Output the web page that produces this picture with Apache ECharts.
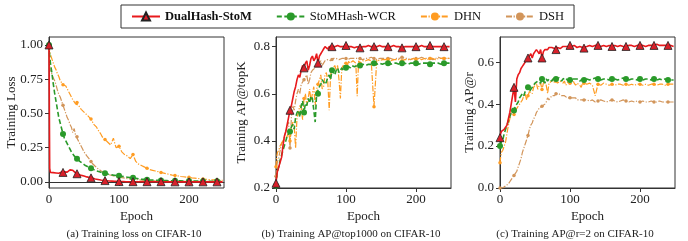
<!DOCTYPE html>
<html>
<head>
<meta charset="utf-8">
<script src="https://cdn.jsdelivr.net/npm/echarts@6/dist/echarts.min.js"></script>
<style>html,body{margin:0;padding:0;background:#fff;}#c{width:688px;height:241px;}</style>
</head>
<body>
<div id="c"></div>
<script>
// ---- sample epochs: 0, 1, every 2 up to 120, then every 4 up to 248 ----
var epochs = [0, 1];
for (var e = 2; e <= 120; e += 2) epochs.push(e);
for (var e2 = 124; e2 <= 248; e2 += 4) epochs.push(e2);

var seriesNames = ['DualHash-StoM', 'StoMHash-WCR', 'DHN', 'DSH'];
var captions = ['(a) Training loss on CIFAR-10', '(b) Training AP@top1000 on CIFAR-10', '(c) Training AP@r=2 on CIFAR-10'];
var yNames = ['Training Loss', 'Training AP@topK', 'Training AP@r'];
var xName = 'Epoch';
var xTicks = [0, 100, 200];
var yTicks1 = [0, 0.25, 0.5, 0.75, 1.0];
var yTicks2 = [0.2, 0.4, 0.6, 0.8];
var yTicks3 = [0.0, 0.2, 0.4, 0.6];

// (a) training loss
var lossDual = [1.00,0.10,
  0.07,0.065,0.068,0.063,0.066,0.07,0.064,0.068,0.072,0.07,
  0.074,0.078,0.072,0.082,0.088,0.09,0.085,0.078,0.066,0.06,
  0.056,0.05,0.048,0.046,0.043,0.04,0.037,0.034,0.032,0.03,
  0.028,0.025,0.022,0.02,0.018,0.016,0.014,0.013,0.011,0.01,
  0.009,0.008,0.007,0.006,0.006,0.005,0.005,0.004,0.004,0.003,
  0.003,0.003,0.003,0.003,0.002,0.002,0.002,0.002,0.002,0.002,
  0.002,0.002,0.002,0.002,0.002,0.002,0.002,0.002,0.002,
  0.002,0.002,0.001,0.001,0.001,0.001,0.001,0.001,0.001,0.001,
  0.001,0.001,0.001,0.001,0.001,0.001,0.001,0.001,0.001,0.001,
  0.001,0.001,0.001];
var lossStoM = [1.00,0.92,
  0.87,0.80,0.72,0.65,0.59,0.53,0.47,0.43,0.39,0.35,
  0.32,0.30,0.28,0.26,0.24,0.22,0.205,0.19,0.18,0.17,
  0.16,0.15,0.14,0.135,0.127,0.12,0.115,0.11,0.105,0.10,
  0.095,0.09,0.085,0.08,0.078,0.075,0.071,0.068,0.065,0.063,
  0.06,0.058,0.056,0.054,0.052,0.05,0.048,0.047,0.046,0.045,
  0.044,0.042,0.04,0.038,0.037,0.035,0.034,0.032,0.031,0.03,
  0.027,0.024,0.021,0.019,0.017,0.015,0.014,0.013,0.012,
  0.011,0.01,0.01,0.009,0.009,0.008,0.008,0.008,0.007,0.007,
  0.007,0.006,0.006,0.006,0.006,0.005,0.005,0.005,0.005,0.005,
  0.005,0.005,0.005];
var lossDHN = [1.00,0.95,
  0.93,0.90,0.87,0.84,0.82,0.79,0.77,0.74,0.73,0.71,
  0.72,0.70,0.68,0.66,0.64,0.62,0.60,0.59,0.57,0.58,
  0.56,0.55,0.53,0.52,0.51,0.50,0.49,0.48,0.47,0.46,
  0.44,0.42,0.41,0.40,0.38,0.37,0.35,0.33,0.34,0.31,
  0.30,0.29,0.28,0.27,0.26,0.32,0.28,0.25,0.26,0.26,
  0.24,0.22,0.21,0.20,0.195,0.19,0.18,0.17,0.16,0.20,
  0.15,0.13,0.12,0.11,0.10,0.09,0.085,0.08,0.075,
  0.07,0.065,0.06,0.055,0.05,0.047,0.044,0.04,0.038,0.036,
  0.034,0.03,0.028,0.026,0.024,0.022,0.02,0.018,0.016,0.015,
  0.014,0.013,0.012];
var lossDSH = [1.00,0.84,
  0.81,0.79,0.76,0.74,0.71,0.67,0.64,0.62,0.63,0.56,
  0.53,0.50,0.47,0.45,0.42,0.40,0.36,0.39,0.34,0.33,
  0.30,0.28,0.26,0.24,0.22,0.21,0.19,0.18,0.165,0.15,
  0.135,0.125,0.115,0.105,0.097,0.09,0.082,0.075,0.07,0.065,
  0.061,0.057,0.053,0.05,0.047,0.045,0.042,0.04,0.037,0.035,
  0.033,0.031,0.03,0.028,0.026,0.025,0.023,0.022,0.021,0.02,
  0.018,0.016,0.014,0.012,0.011,0.01,0.009,0.008,0.007,
  0.007,0.006,0.006,0.006,0.006,0.006,0.005,0.005,0.005,0.005,
  0.005,0.005,0.005,0.005,0.004,0.004,0.004,0.004,0.004,0.004,
  0.004,0.004,0.004];

// (b) AP@top1000
var topDual = [0.22,0.25,
  0.27,0.29,0.31,0.33,0.38,0.42,0.44,0.47,0.50,0.53,
  0.55,0.58,0.61,0.63,0.66,0.68,0.67,0.70,0.72,0.71,
  0.73,0.74,0.70,0.72,0.75,0.76,0.74,0.75,0.77,0.73,
  0.76,0.77,0.78,0.79,0.80,0.80,0.79,0.80,0.805,0.80,
  0.80,0.80,0.795,0.805,0.80,0.80,0.805,0.80,0.80,0.805,
  0.80,0.80,0.805,0.80,0.80,0.795,0.80,0.80,0.80,0.795,
  0.80,0.80,0.805,0.80,0.80,0.80,0.805,0.80,0.80,
  0.80,0.80,0.805,0.80,0.80,0.795,0.80,0.80,0.80,0.80,
  0.80,0.80,0.805,0.80,0.80,0.805,0.80,0.80,0.80,0.80,
  0.80,0.80,0.80];
var topStoM = [0.21,0.25,
  0.27,0.29,0.32,0.34,0.36,0.38,0.40,0.42,0.43,0.44,
  0.46,0.47,0.45,0.50,0.52,0.53,0.50,0.55,0.57,0.52,
  0.56,0.55,0.58,0.56,0.59,0.58,0.53,0.48,0.60,0.60,
  0.63,0.64,0.66,0.66,0.64,0.65,0.67,0.68,0.66,0.70,
  0.69,0.68,0.70,0.71,0.69,0.70,0.71,0.70,0.72,0.71,
  0.72,0.72,0.71,0.72,0.72,0.715,0.72,0.72,0.725,0.72,
  0.725,0.72,0.725,0.725,0.73,0.725,0.73,0.725,0.73,
  0.73,0.725,0.73,0.73,0.725,0.73,0.73,0.725,0.73,0.73,
  0.73,0.725,0.73,0.73,0.73,0.725,0.73,0.73,0.73,0.725,
  0.73,0.73,0.73];
var topDHN = [0.29,0.33,
  0.35,0.36,0.38,0.39,0.40,0.40,0.41,0.42,0.44,0.40,
  0.45,0.48,0.46,0.37,0.50,0.52,0.55,0.54,0.49,0.58,
  0.60,0.55,0.58,0.62,0.57,0.60,0.63,0.55,0.62,0.64,
  0.66,0.68,0.62,0.63,0.68,0.69,0.65,0.53,0.68,0.70,
  0.71,0.72,0.70,0.72,0.66,0.58,0.71,0.72,0.73,0.73,
  0.72,0.74,0.73,0.73,0.74,0.74,0.73,0.59,0.74,0.73,
  0.74,0.74,0.745,0.74,0.545,0.745,0.74,0.745,0.745,
  0.745,0.74,0.745,0.745,0.745,0.74,0.745,0.745,0.745,0.75,
  0.745,0.75,0.745,0.75,0.745,0.75,0.75,0.745,0.75,0.75,
  0.75,0.75,0.75];
var topDSH = [0.25,0.29,
  0.31,0.33,0.36,0.39,0.40,0.42,0.44,0.46,0.48,0.37,
  0.50,0.55,0.53,0.57,0.60,0.62,0.60,0.64,0.65,0.66,
  0.67,0.68,0.64,0.66,0.69,0.70,0.70,0.71,0.72,0.72,
  0.73,0.74,0.72,0.73,0.74,0.74,0.745,0.745,0.74,0.745,
  0.75,0.745,0.75,0.755,0.745,0.75,0.75,0.745,0.75,0.75,
  0.745,0.75,0.75,0.755,0.75,0.745,0.75,0.75,0.75,0.75,
  0.745,0.75,0.75,0.755,0.75,0.745,0.75,0.75,0.75,
  0.75,0.75,0.745,0.75,0.75,0.755,0.75,0.75,0.745,0.75,
  0.75,0.75,0.755,0.75,0.75,0.75,0.745,0.75,0.755,0.75,
  0.75,0.75,0.75];

// (c) AP@r=2
var rDual = [0.24,0.26,
  0.27,0.27,0.28,0.28,0.30,0.33,0.36,0.40,0.44,0.48,
  0.41,0.52,0.54,0.55,0.57,0.58,0.59,0.60,0.61,0.62,
  0.63,0.64,0.62,0.64,0.65,0.66,0.65,0.64,0.66,0.62,
  0.65,0.66,0.665,0.66,0.67,0.665,0.67,0.67,0.665,0.66,
  0.67,0.67,0.665,0.67,0.675,0.67,0.675,0.68,0.675,0.68,
  0.675,0.675,0.68,0.675,0.67,0.675,0.675,0.67,0.67,0.667,
  0.675,0.68,0.675,0.68,0.68,0.675,0.68,0.675,0.68,
  0.675,0.68,0.675,0.68,0.675,0.675,0.68,0.68,0.675,0.68,
  0.68,0.68,0.675,0.68,0.68,0.68,0.685,0.68,0.68,0.68,
  0.68,0.68,0.675];
var rStoM = [0.20,0.21,
  0.22,0.23,0.26,0.28,0.30,0.32,0.34,0.36,0.36,0.37,
  0.39,0.40,0.41,0.43,0.44,0.45,0.44,0.46,0.47,0.48,
  0.46,0.47,0.48,0.49,0.50,0.50,0.51,0.51,0.50,0.52,
  0.51,0.50,0.52,0.51,0.52,0.525,0.51,0.52,0.53,0.52,
  0.515,0.525,0.52,0.51,0.52,0.52,0.525,0.515,0.52,0.515,
  0.52,0.52,0.515,0.52,0.515,0.52,0.51,0.515,0.52,0.515,
  0.52,0.515,0.52,0.525,0.52,0.515,0.52,0.52,0.515,
  0.52,0.52,0.515,0.52,0.525,0.52,0.515,0.52,0.52,0.515,
  0.52,0.515,0.52,0.52,0.515,0.52,0.515,0.52,0.515,0.52,
  0.515,0.515,0.515];
var rDHN = [0.12,0.15,
  0.17,0.18,0.20,0.22,0.26,0.30,0.33,0.36,0.37,0.35,
  0.37,0.38,0.39,0.40,0.41,0.42,0.44,0.45,0.42,0.44,
  0.46,0.46,0.45,0.48,0.49,0.50,0.47,0.49,0.50,0.47,
  0.50,0.51,0.49,0.45,0.50,0.50,0.51,0.52,0.50,0.51,
  0.50,0.50,0.51,0.51,0.50,0.51,0.49,0.50,0.51,0.50,
  0.50,0.515,0.50,0.49,0.50,0.50,0.49,0.48,0.50,0.50,
  0.495,0.50,0.49,0.44,0.495,0.49,0.50,0.495,0.49,
  0.495,0.49,0.495,0.495,0.49,0.495,0.49,0.495,0.49,0.495,
  0.495,0.49,0.495,0.49,0.495,0.495,0.49,0.495,0.495,0.49,
  0.495,0.495,0.495];
var rDSH = [0.00,0.00,
  0.00,0.00,0.005,0.01,0.015,0.02,0.03,0.04,0.05,0.06,
  0.07,0.08,0.10,0.12,0.14,0.17,0.19,0.21,0.23,0.25,
  0.28,0.30,0.31,0.33,0.34,0.36,0.37,0.38,0.385,0.39,
  0.39,0.40,0.41,0.43,0.42,0.43,0.44,0.44,0.44,0.45,
  0.45,0.45,0.445,0.44,0.44,0.44,0.435,0.43,0.43,0.43,
  0.43,0.43,0.425,0.43,0.42,0.42,0.42,0.42,0.42,0.42,
  0.42,0.415,0.42,0.41,0.415,0.42,0.415,0.41,0.415,
  0.42,0.415,0.41,0.415,0.42,0.415,0.41,0.415,0.41,0.415,
  0.41,0.415,0.41,0.41,0.415,0.41,0.41,0.415,0.41,0.41,
  0.41,0.41,0.41];

var panels = [
  [lossDual, lossStoM, lossDHN, lossDSH],
  [topDual, topStoM, topDHN, topDSH],
  [rDual, rStoM, rDHN, rDSH]
];

// ---- styles ----
var FONT = 'Liberation Serif';
var INK = '#333';
var styles = [
  {color:'#e8191c', type:'solid', width:1.6, symbol:'triangle', size:8, fill:'#d9202a', border:'#222', z:6},
  {color:'#2a9a2a', type:[5,2.5], width:1.6, symbol:'circle', size:6, fill:'#2a9a2a', border:'#2a9a2a', z:5},
  {color:'#ff9c22', type:[6,1.6,1.2,1.6], width:1.2, symbol:'circle', size:3.5, fill:'#ff9c22', border:'#ff9c22', z:4},
  {color:'#d2955a', type:[6,1.6,1.2,1.6], width:1.2, symbol:'circle', size:3.5, fill:'#d2955a', border:'#d2955a', z:3}
];

var grids = [
  {left:49, top:37, width:175, height:151},
  {left:276, top:37, width:175, height:151},
  {left:500, top:37, width:175, height:151}
];
var yRanges = [[-0.044, 1.058], [0.2, 0.841], [0, 0.72]];
var yTickSets = [yTicks1, yTicks2, yTicks3];
var yDigits = [2, 1, 1];
var yNameGaps = [31, 28, 24];

var option = {
  animation: false,
  backgroundColor: '#fff',
  textStyle: {fontFamily: FONT},
  grid: grids.map(function (g) {
    return Object.assign({show:true, borderColor:INK, borderWidth:1, backgroundColor:'transparent', containLabel:false}, g);
  }),
  xAxis: grids.map(function (g, i) {
    return {
      type:'value', gridIndex:i, min:0, max:250,
      name: xName, nameLocation:'middle', nameGap:22, nameMoveOverlap:false,
      nameTextStyle:{fontFamily:FONT, fontSize:13, color:'#222'},
      axisLine:{show:true, lineStyle:{color:INK}},
      axisTick:{show:true, inside:false, length:4, lineStyle:{color:INK}, customValues:xTicks},
      axisLabel:{fontFamily:FONT, fontSize:13, color:'#222', margin:5, customValues:xTicks},
      splitLine:{show:false}
    };
  }),
  yAxis: grids.map(function (g, i) {
    return {
      type:'value', gridIndex:i, min:yRanges[i][0], max:yRanges[i][1],
      name: yNames[i], nameLocation:'middle', nameGap:yNameGaps[i], nameRotate:90, nameMoveOverlap:false,
      nameTextStyle:{fontFamily:FONT, fontSize:13, color:'#222'},
      axisLine:{show:true, lineStyle:{color:INK}},
      axisTick:{show:true, inside:false, length:4, lineStyle:{color:INK}, customValues:yTickSets[i]},
      axisLabel:{fontFamily:FONT, fontSize:13, color:'#222', margin:6, customValues:yTickSets[i],
        formatter:(function (d) { return function (v) { return v.toFixed(d); }; })(yDigits[i])},
      splitLine:{show:false}
    };
  }),
  legend: {
    left: 121, top: 5,
    orient:'horizontal',
    padding:[5, 10],
    itemGap: 24,
    itemWidth: 28, itemHeight: 10,
    borderColor: INK, borderWidth: 1, borderRadius: 0,
    backgroundColor:'#fff',
    data: seriesNames,
    textStyle:{fontFamily:FONT, fontSize:12.5, color:'#111',
      rich:{b:{fontFamily:FONT, fontSize:12.5, fontWeight:'bold', color:'#111'}}},
    formatter: function (n) { return n === seriesNames[0] ? '{b|' + n + '}' : n; }
  },
  graphic: captions.map(function (t, i) {
    var cx = [134, 351, 575][i];
    return {type:'text', x:cx, y:234, style:{text:t, fontFamily:FONT, fontSize:11, fill:'#222', textAlign:'center', textVerticalAlign:'middle'}};
  }),
  series: []
};

panels.forEach(function (arrs, pi) {
  arrs.forEach(function (vals, si) {
    var s = styles[si];
    option.series.push({
      type:'line', name:seriesNames[si], xAxisIndex:pi, yAxisIndex:pi,
      data: vals.map(function (v, k) { return [epochs[k], v]; }),
      showSymbol:true, symbol:s.symbol,
      symbolSize: (function (sz) { return function (val) { return (val && val[0] % 20 === 0) ? sz : 0; }; })(s.size),
      lineStyle:{color:s.color, width:s.width, type:s.type},
      itemStyle:{color:s.fill, borderColor:s.border, borderWidth:s.symbol === 'triangle' ? 0.8 : 0},
      z:s.z, silent:true, clip:true, emphasis:{disabled:true}
    });
  });
});

var chart = echarts.init(document.getElementById('c'), null, {renderer:'canvas'});
chart.setOption(option);
</script>
</body>
</html>
